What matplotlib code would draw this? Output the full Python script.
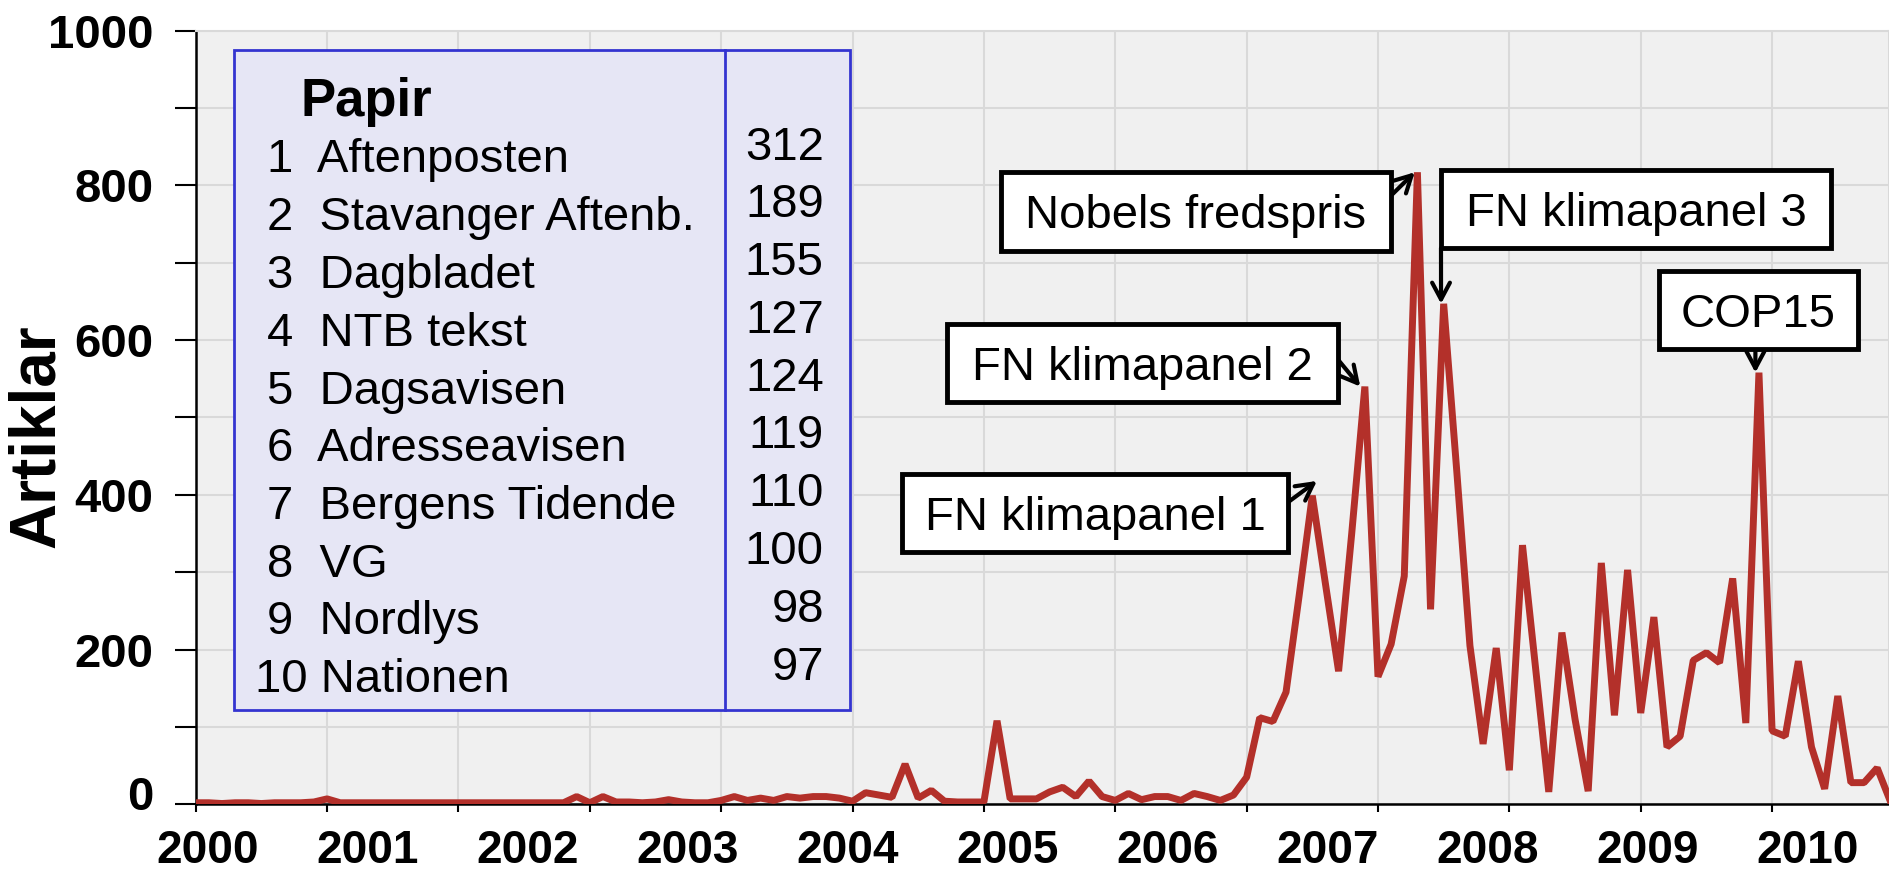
import matplotlib
matplotlib.use("Agg")
import matplotlib.pyplot as plt
import matplotlib.transforms as mtransforms
from matplotlib.lines import Line2D
from matplotlib.patches import Rectangle
from matplotlib.ticker import FixedLocator

plt.rcParams['font.family'] = ['Liberation Sans', 'DejaVu Sans']

# monthly number of articles, Jan 2000 -> Oct 2010
articles = [
    2, 2, 1, 2, 2, 1, 2, 2, 2, 3, 7, 2,             # 2000
    2, 2, 2, 2, 2, 2, 2, 2, 2, 2, 2, 2,             # 2001
    2, 2, 2, 2, 2, 10, 2, 10, 3, 3, 2, 3,           # 2002
    6, 3, 2, 2, 5, 10, 5, 8, 5, 10, 8, 10,          # 2003
    10, 8, 4, 15, 12, 9, 52, 8, 18, 4, 3, 3,        # 2004
    3, 108, 7, 7, 7, 16, 22, 10, 30, 10, 5, 14,     # 2005
    6, 10, 10, 5, 14, 10, 5, 12, 35, 112, 107, 145,  # 2006
    270, 399, 285, 172, 350, 540, 165, 207, 295, 817, 252, 647,  # 2007
    430, 205, 78, 202, 44, 335, 176, 16, 222, 110, 17, 312,      # 2008
    115, 303, 118, 242, 74, 88, 186, 196, 183, 292, 105, 558,    # 2009
    95, 88, 185, 74, 20, 140, 28, 28, 47, 4,                     # 2010
]
years = [str(y) for y in range(2000, 2011)]

papers = ["Aftenposten", "Stavanger Aftenb.", "Dagbladet", "NTB tekst",
          "Dagsavisen", "Adresseavisen", "Bergens Tidende", "VG",
          "Nordlys", "Nationen"]
paper_counts = [312, 189, 155, 127, 124, 119, 110, 100, 98, 97]

events = ["FN klimapanel 1", "FN klimapanel 2", "Nobels fredspris",
          "FN klimapanel 3", "COP15"]
event_month = [85, 89, 93, 95, 119]

W, H = 1890, 873
fig = plt.figure(figsize=(W / 100, H / 100), dpi=100)


def fx(x):
    return x / W


def fy(y):
    return 1 - y / H


ax = fig.add_axes([fx(195.7), fy(804.3), fx(1889) - fx(195.7), fy(30.7) - fy(804.3)])
ax.set_facecolor('#f0f0f0')
ax.plot(range(len(articles)), articles, color='#b3302a', lw=5,
        solid_joinstyle='bevel', zorder=3)
ax.set_xlim(0, 128.9)
ax.set_ylim(0, 1000)

# ticks every 10 months, year labels on their own positions
ax.set_xticks(range(0, 130, 10))
ax.xaxis.set_minor_locator(FixedLocator([0.9 + 12.18 * k for k in range(len(years))]))
ax.set_xticklabels(years, minor=True)
ax.tick_params(axis='x', which='major', labelbottom=False, length=6, width=1.5,
               direction='out', color='black')
ax.tick_params(axis='x', which='minor', length=0, pad=18, labelsize=33)

ax.yaxis.set_major_locator(FixedLocator(range(0, 1001, 200)))
ax.yaxis.set_minor_locator(FixedLocator(range(100, 1000, 200)))
ax.tick_params(axis='y', which='both', length=15, width=1.5, direction='out',
               pad=15.5, labelsize=34, color='black')

for lab in ax.get_xticklabels(minor=True) + ax.get_yticklabels():
    lab.set_fontweight('bold')
zero = ax.get_yticklabels()[0]
zero.set_transform(zero.get_transform() +
                   mtransforms.ScaledTranslation(0, 0.11, fig.dpi_scale_trans))

ax.grid(True, which='both', axis='y', color='#d9d9d9', lw=1.5)
ax.grid(True, which='major', axis='x', color='#d9d9d9', lw=1.5)
ax.set_axisbelow(True)
for s in ['left', 'bottom']:
    ax.spines[s].set_color('black')
    ax.spines[s].set_linewidth(1.8)
for s in ['top', 'right']:
    ax.spines[s].set_color('#d9d9d9')
    ax.spines[s].set_linewidth(1.5)

fig.text(fx(37), fy(436), "Artiklar", rotation=90, ha='center', va='center',
         fontsize=46, fontweight='bold')

# newspaper table
fig.add_artist(Rectangle((fx(234), fy(710)), fx(850.5) - fx(234), fy(50) - fy(710),
                         transform=fig.transFigure, facecolor='#e6e6f5',
                         edgecolor='#3434d0', lw=2))
fig.add_artist(Line2D([fx(725), fx(725)], [fy(50), fy(710)],
                      transform=fig.transFigure, color='#3434d0', lw=2))
fig.text(fx(301), fy(115.7), "Papir", fontsize=38, fontweight='bold', va='baseline')
for i, (name, n) in enumerate(zip(papers, paper_counts)):
    rank = i + 1
    row = f"{rank}  {name}" if rank < 10 else f"{rank} {name}"
    x0 = 267 if rank < 10 else 255.5
    fig.text(fx(x0), fy(172.5 + 57.75 * i), row, fontsize=34, va='baseline')
    fig.text(fx(823.8), fy(159.5 + 57.8 * i), str(n), fontsize=34,
             va='baseline', ha='right')

# event labels with arrows
boxes = [(902, 474, 1288, 552), (947, 324, 1337.5, 402), (1001, 172, 1391, 251),
         (1441, 170, 1831, 248), (1659, 271, 1858, 349)]
starts = [(1286, 503.7), (1337.5, 359), (1389, 197.6), (1441, 248), (1755.4, 349)]
tip_shift = [(0.35, 19), (-0.35, 0), (-0.2, 0), (-0.2, 0), (-0.27, 0)]
for label, m, (l, t, r, b), (sx, sy), (dx, dy) in zip(events, event_month, boxes,
                                                     starts, tip_shift):
    fig.add_artist(Rectangle((fx(l), fy(b)), fx(r) - fx(l), fy(t) - fy(b),
                             transform=fig.transFigure, facecolor='white',
                             edgecolor='black', lw=3.5))
    fig.text(fx((l + r) / 2), fy((t + b) / 2 + 17), label, fontsize=34,
             ha='center', va='baseline')
    ax.annotate("", xy=(m + dx, articles[m] + dy), xytext=(sx, H - sy),
                textcoords='figure pixels', annotation_clip=False, zorder=4,
                arrowprops=dict(arrowstyle='->,head_length=0.6,head_width=0.32',
                                lw=3, color='black', shrinkA=0, shrinkB=0,
                                mutation_scale=20))

fig.savefig('out.png', dpi=100)
